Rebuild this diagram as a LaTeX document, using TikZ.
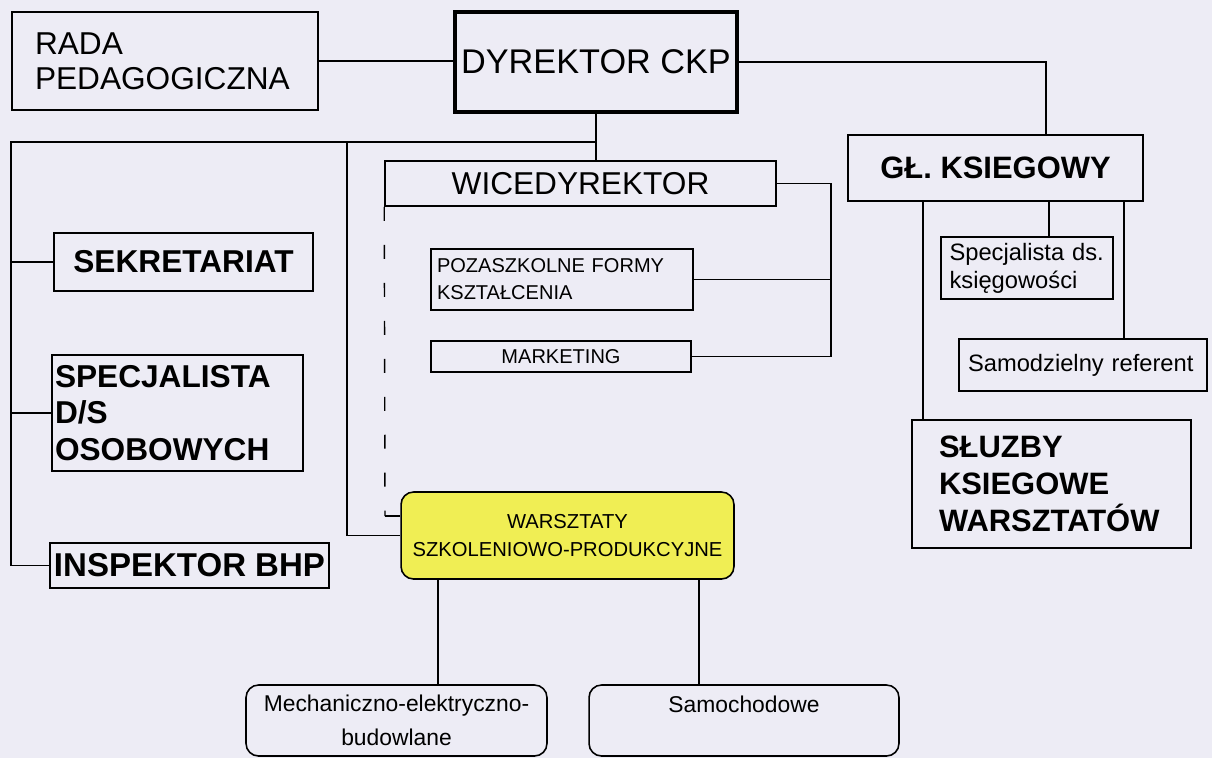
\documentclass[tikz,border=0pt]{standalone}
\usepackage{fontspec}
\setmainfont{Liberation Sans}
\definecolor{paper}{RGB}{237,236,245}
\definecolor{wsfill}{RGB}{240,238,84}
\newcommand\fsz[2]{\fontsize{#1}{#2}\selectfont}
\begin{document}
\begin{tikzpicture}[
		x=0.02cm, y=-0.02cm,
		box/.style={rectangle, draw, line width=0.9pt, inner sep=0pt},
		rbox/.style={box, rounded corners=0.25cm},
		link/.style={line width=0.8pt},
	]
	\useasboundingbox[fill=paper] (0,0) rectangle (1212,758);

	% top row
	\node[box, minimum width=6.12cm, minimum height=1.96cm, text width=5.2cm, align=left, font=\fsz{18}{20}] (rada) at (165,61) {RADA\\PEDAGOGICZNA};
	\node[box, line width=2.4pt, minimum width=5.64cm, minimum height=2.0cm, font=\fsz{19.5}{22}] (dyr) at (596,62) {DYREKTOR CKP};

	% vice director and his units
	\node[box, minimum width=7.82cm, minimum height=0.9cm, font=\fsz{18}{20}] (wice) at (580.5,183.5) {WICEDYREKTOR};
	\node[box, minimum width=5.24cm, minimum height=1.22cm, text width=5.0cm, align=left, font=\fsz{11.4}{15.4}] (poz) at (562,279.5) {POZASZKOLNE FORMY\\KSZTAŁCENIA};
	\node[box, minimum width=5.2cm, minimum height=0.62cm, font=\fsz{11.4}{14}] (mark) at (561,356.5) {MARKETING};
	\node[rbox, fill=wsfill, minimum width=6.66cm, minimum height=1.74cm, align=center, font=\fsz{11.5}{16}] (wars) at (567.5,535.5) {WARSZTATY\\SZKOLENIOWO-PRODUKCYJNE};
	\node[rbox, minimum width=6.02cm, minimum height=1.42cm, align=center, font=\fsz{13}{19}] (mech) at (396.5,720.5) {Mechaniczno-elektryczno-\\budowlane};
	\node[rbox, minimum width=6.2cm, minimum height=1.42cm, align=center, font=\fsz{13}{19}] (samo) at (744,720.5) {Samochodowe\\\mbox{}};

	% left column
	\node[box, minimum width=5.18cm, minimum height=1.16cm, font=\bfseries\fsz{18}{21}] (sek) at (183.5,262) {SEKRETARIAT};
	\node[box, minimum width=5.02cm, minimum height=2.32cm, text width=4.9cm, align=left, font=\bfseries\fsz{18}{21}] (spec) at (177.5,413) {SPECJALISTA\\D/S\\OSOBOWYCH};
	\node[box, minimum width=5.58cm, minimum height=0.9cm, font=\bfseries\fsz{18.8}{21}] (insp) at (189.5,565.5) {INSPEKTOR BHP};

	% accounting
	\node[box, minimum width=5.9cm, minimum height=1.32cm, font=\bfseries\fsz{17.6}{20}] (gl) at (995.5,168) {GŁ. KSIEGOWY};
	\node[box, minimum width=3.44cm, minimum height=1.24cm, text width=3.1cm, align=left, font=\fsz{13.5}{16}] (spk) at (1027,268) {Specjalista ds.\\księgowości};
	\node[box, minimum width=4.96cm, minimum height=1.04cm, text width=4.6cm, align=left, font=\fsz{13.5}{16}] (sam) at (1083,365) {Samodzielny referent};
	\node[box, minimum width=5.58cm, minimum height=2.56cm, text width=4.5cm, align=left, font=\bfseries\fsz{17.6}{21}] (sluz) at (1051.5,484) {SŁUZBY\\KSIEGOWE\\WARSZTATÓW};

	% junctions
	\coordinate (lefttop) at (11,142);
	\coordinate (midtop)  at (347,142);
	\coordinate (rail)    at (831,183.5);
	\coordinate (dashend) at (385,516);

	% director links
	\draw[link] (rada.east) -- (rada.east -| dyr.west);
	\draw[link] (dyr.east) -| ([xshift=1.01cm]gl.north);
	\draw[link] (dyr.south) -- (dyr.south |- wice.north);
	\draw[link] (lefttop -| dyr.south) -- (lefttop) |- (insp.west);
	\draw[link] (lefttop |- sek.west) -- (sek.west);
	\draw[link] (lefttop |- spec.west) -- (spec.west);
	\draw[link] (midtop) |- (wars.west);

	% vice director links
	\draw[link, dash pattern=on 0.28cm off 0.48cm] (wice.south west) -- (dashend);
	\draw[link] (dashend) -- (dashend -| wars.west);
	\draw[link] (wice.east) -- (rail) |- (mark.east);
	\draw[link] (poz.east) -- (poz.east -| rail);

	% accountant links
	\draw[link] ([xshift=-1.45cm]gl.south) -- ([xshift=-1.45cm]gl.south |- sluz.north);
	\draw[link] ([xshift=1.07cm]gl.south) -- ([xshift=1.07cm]gl.south |- spk.north);
	\draw[link] ([xshift=2.57cm]gl.south) -- ([xshift=2.57cm]gl.south |- sam.north);

	% workshop links
	\draw[link] ([xshift=-2.59cm]wars.south) -- ([xshift=-2.59cm]wars.south |- mech.north);
	\draw[link] ([xshift=2.63cm]wars.south) -- ([xshift=2.63cm]wars.south |- samo.north);
\end{tikzpicture}
\end{document}
